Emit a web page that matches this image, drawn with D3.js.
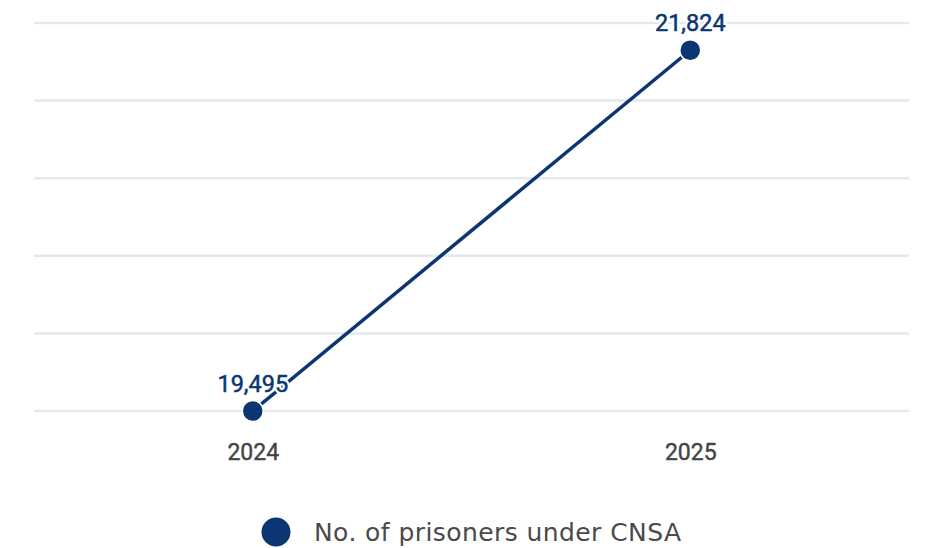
<!DOCTYPE html>
<html><head><meta charset="utf-8">
<script src="https://cdn.jsdelivr.net/npm/d3@7"></script>
<style>body{margin:0;background:#fff}svg{display:block}</style>
</head><body>
<svg id="c" width="926" height="548"></svg>
<script>
const years = ["2024", "2025"];
const prisoners = [19495, 21824];
const seriesName = "No. of prisoners under CNSA";
const yDomain = [19495, 22000];
const gridCount = 5;

const color = "#0b3672";
const svg = d3.select("#c");
const x = d3.scalePoint().domain(years).range([34, 909]).padding(0.5);
const y = d3.scaleLinear().domain(yDomain).range([411, 23]);

const step = (yDomain[1] - yDomain[0]) / gridCount;
const gridVals = d3.range(gridCount + 1).map(i => yDomain[0] + i * step);
svg.append("g").selectAll("line").data(gridVals).join("line")
  .attr("x1", 34).attr("x2", 909)
  .attr("y1", d => y(d)).attr("y2", d => y(d))
  .attr("stroke", "#e3e9f1").attr("stroke-width", 2.5);

const xAxis = svg.append("g").attr("transform", "translate(0,411)")
  .call(d3.axisBottom(x).tickSize(0).tickPadding(33));
xAxis.select(".domain").remove();
xAxis.selectAll("text").attr("font-family", "Roboto,'Noto Sans',sans-serif")
  .attr("font-size", 23).attr("fill", "#444").attr("font-weight", 400)
  .attr("stroke", "#444").attr("stroke-width", 0.4);

const data = years.map((yr, i) => ({ yr, v: prisoners[i] }));
svg.append("path").datum(data)
  .attr("d", d3.line().x(d => x(d.yr)).y(d => y(d.v)))
  .attr("fill", "none").attr("stroke", color).attr("stroke-width", 3.5);

svg.append("g").selectAll("circle").data(data).join("circle")
  .attr("cx", d => x(d.yr)).attr("cy", d => y(d.v)).attr("r", 10.5)
  .attr("fill", color).attr("stroke", "#fff").attr("stroke-width", 1.5);

const lbl = svg.append("g").selectAll("g").data(data).join("g")
  .attr("transform", d => `translate(${x(d.yr)},${y(d.v) - 19})`);
lbl.append("text").attr("text-anchor", "middle")
  .attr("font-family", "Roboto,'Noto Sans',sans-serif").attr("font-size", 23.5)
  .attr("fill", "#fff").attr("stroke", "#fff").attr("stroke-width", 5).attr("stroke-linejoin", "round")
  .text(d => d3.format(",")(d.v));
lbl.append("text").attr("text-anchor", "middle")
  .attr("font-family", "Roboto,'Noto Sans',sans-serif").attr("font-size", 23.5)
  .attr("fill", color).attr("stroke", color).attr("stroke-width", 0.5)
  .text(d => d3.format(",")(d.v));

const lg = svg.append("g");
lg.append("circle").attr("cx", 276).attr("cy", 532).attr("r", 14.5).attr("fill", color);
lg.append("text").attr("x", 314).attr("y", 541)
  .attr("font-family", "'DejaVu Sans','Open Sans',sans-serif").attr("font-size", 25)
  .attr("textLength", 367).attr("lengthAdjust", "spacing")
  .attr("fill", "#4a4a4a").text(seriesName);
</script>
</body></html>
